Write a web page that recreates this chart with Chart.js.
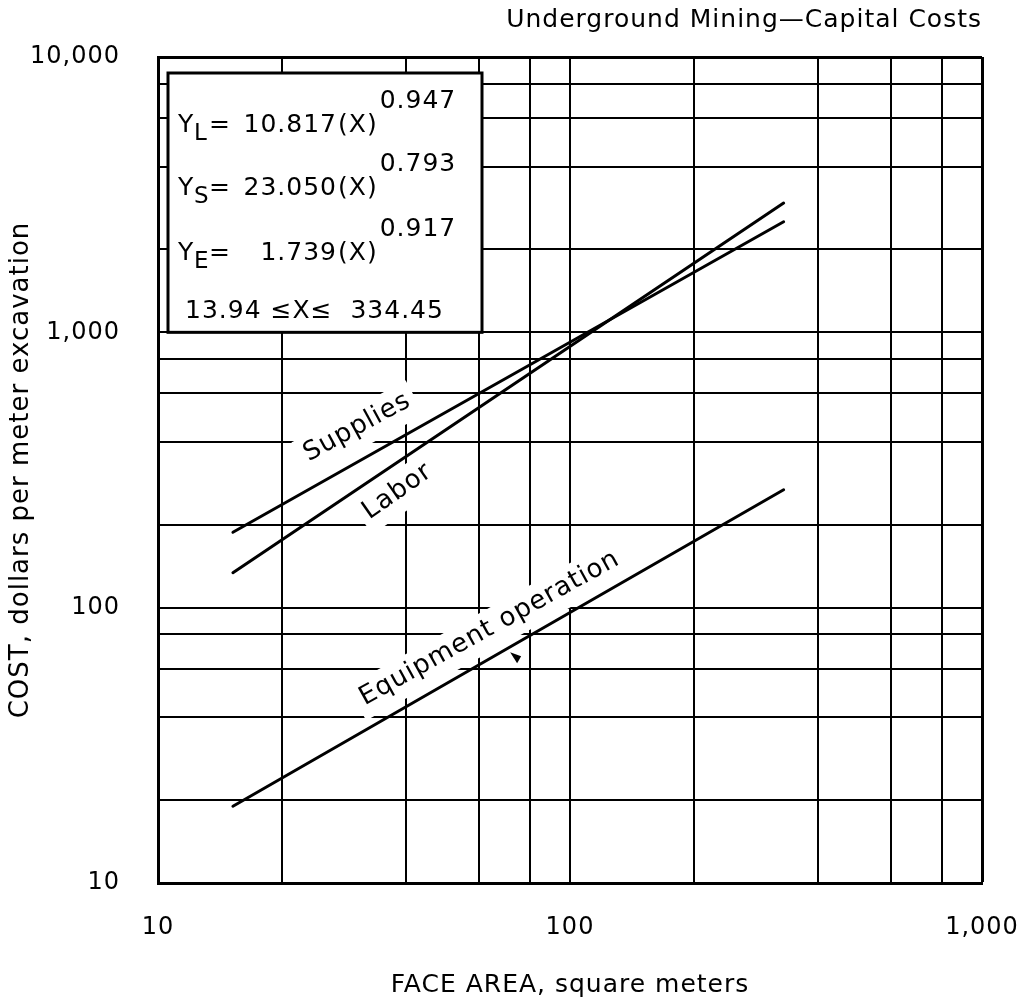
<!DOCTYPE html>
<html>
<head>
<meta charset="utf-8">
<title>Underground Mining—Capital Costs</title>
<script src="https://cdn.jsdelivr.net/npm/chart.js@4.4.1/dist/chart.umd.min.js"></script>
<style>
  html, body { margin: 0; padding: 0; background: #fff; }
</style>
</head>
<body>
<canvas id="cost-chart" width="1027" height="1008"></canvas>
<script>
// end points of the three fitted lines
const faceArea = [15.2, 330];          // square meters
const laborCost = [134, 2950];         // dollars per meter
const suppliesCost = [188, 2520];
const equipmentCost = [19, 268];

// grid of the original graph paper and the labelled decades
const xGridValues = [10, 20, 40, 60, 80, 100, 200, 400, 600, 800, 1000];
const yGridValues = [10, 20, 40, 60, 80, 100, 200, 400, 600, 800, 1000, 2000, 4000, 6000, 8000, 10000];
const xTickValues = [10, 100, 1000];
const xTickLabels = ['10', '100', '1,000'];
const yTickValues = [10, 100, 1000, 10000];
const yTickLabels = ['10', '100', '1,000', '10,000'];

// regression equations shown in the box
const eqSubscripts = ['L', 'S', 'E'];
const eqCoefficients = ['10.817', '23.050', '1.739'];
const eqExponents = ['0.947', '0.793', '0.917'];
const eqRange = '13.94 \u2264X\u2264  334.45';

const FONT = "'DejaVu Sans', sans-serif";
Chart.defaults.font.family = FONT;
Chart.defaults.color = '#000';

// names written along the lines (anchored in data units, baseline centre)
const curveNotes = [
    { text: 'Supplies', x: 31, y: 430, angle: 28.6 },
    { text: 'Labor', x: 39, y: 252, angle: 35 },
    { text: 'Equipment operation', x: 65, y: 80, angle: 29 }
];

function pairs(xs, ys) {
    return xs.map((x, i) => ({ x: x, y: ys[i] }));
}

function lineSet(label, values) {
    return {
        label: label,
        data: pairs(faceArea, values),
        borderColor: '#000',
        borderWidth: 3,
        borderCapStyle: 'round',
        pointRadius: 0,
        fill: false,
        tension: 0
    };
}

function tickText(values, labels) {
    return function(value) {
        const i = values.indexOf(value);
        return i < 0 ? '' : labels[i];
    };
}

//the old plotter font is wider than DejaVu, a bit of spacing helps
const spacing = {
    id: 'spacing',
    beforeLayout(chart) { chart.ctx.letterSpacing = '1px'; },
    beforeDraw(chart) { chart.ctx.letterSpacing = '1px'; }
};

const notes = {
    id: 'notes',
    beforeDatasetsDraw(chart) {
        const ctx = chart.ctx;
        const xs = chart.scales.x, ys = chart.scales.y, area = chart.chartArea;
        ctx.save();
        ctx.letterSpacing = '1px';

        // white patches behind the line names, they cut the grid like on the original
        ctx.font = '26px ' + FONT;
        ctx.fillStyle = '#fff';
        curveNotes.forEach(n => {
            const w = ctx.measureText(n.text).width;
            ctx.save();
            ctx.translate(xs.getPixelForValue(n.x), ys.getPixelForValue(n.y));
            ctx.rotate(-n.angle * Math.PI / 180);
            ctx.fillRect(-w / 2 - 6, -25, w + 12, 39);
            ctx.restore();
        });

        // equation box
        const left = area.left + 10, top = area.top + 16;
        const right = area.left + 324, bottom = ys.getPixelForValue(1000);
        ctx.fillRect(left, top, right - left, bottom - top);
        ctx.lineWidth = 3;
        ctx.strokeStyle = '#000';
        ctx.strokeRect(left, top, right - left, bottom - top);

        ctx.fillStyle = '#000';
        ctx.textBaseline = 'alphabetic';
        const rows = [59, 122, 187];
        eqSubscripts.forEach((s, i) => {
            const base = top + rows[i];
            ctx.font = '25px ' + FONT;
            ctx.textAlign = 'left';
            ctx.fillText('Y', left + 10, base);
            ctx.font = '23px ' + FONT;
            ctx.fillText(s, left + 26, base + 8);
            ctx.font = '25px ' + FONT;
            ctx.fillText('=', left + 41, base);
            ctx.textAlign = 'right';
            ctx.fillText(eqCoefficients[i], left + 169, base);
            ctx.textAlign = 'left';
            ctx.fillText('(X)', left + 170, base);
            const w = ctx.measureText('(X)').width;
            ctx.fillText(eqExponents[i], left + 172 + w, base - 24);
        });
        ctx.font = '25px ' + FONT;
        ctx.fillText(eqRange, left + 17, top + 245);
        ctx.restore();
    },
    afterDatasetsDraw(chart) {
        const ctx = chart.ctx;
        const xs = chart.scales.x, ys = chart.scales.y;
        ctx.save();
        ctx.letterSpacing = '1px';
        ctx.font = '26px ' + FONT;
        ctx.fillStyle = '#000';
        ctx.textAlign = 'center';
        ctx.textBaseline = 'alphabetic';
        curveNotes.forEach(n => {
            ctx.save();
            ctx.translate(xs.getPixelForValue(n.x), ys.getPixelForValue(n.y));
            ctx.rotate(-n.angle * Math.PI / 180);
            ctx.fillText(n.text, 0, 0);
            ctx.restore();
        });

        // little arrow head under the equipment label
        const ax = xs.getPixelForValue(74), ay = ys.getPixelForValue(66);
        ctx.beginPath();
        ctx.moveTo(ax - 6, ay - 5);
        ctx.lineTo(ax + 5, ay - 1);
        ctx.lineTo(ax + 1, ay + 6);
        ctx.closePath();
        ctx.fill();
        ctx.restore();
    }
};

const canvas = document.getElementById('cost-chart');

const costChart = new Chart(canvas, {
    type: 'line',
    data: {
        datasets: [
            lineSet('Labor', laborCost),
            lineSet('Supplies', suppliesCost),
            lineSet('Equipment operation', equipmentCost)
        ]
    },
    options: {
        responsive: false,
        animation: false,
        layout: { padding: 0 },
        plugins: {
            legend: { display: false },
            tooltip: { enabled: false },
            title: {
                display: true,
                text: 'Underground Mining\u2014Capital Costs',
                align: 'end',
                fullSize: false,
                color: '#000',
                font: { size: 25, weight: 'normal' },
                padding: { top: 5, bottom: 22 }
            }
        },
        scales: {
            x: {
                type: 'logarithmic',
                min: 10,
                max: 1000,
                afterBuildTicks: (scale) => { scale.ticks = xGridValues.map(v => ({ value: v })); },
                afterFit: (scale) => { scale.height = 125; scale.paddingRight = 45; },
                grid: {
                    color: '#000',
                    lineWidth: (c) => (c.tick && c.tick.value === 1000 ? 3 : 2),
                    drawTicks: false
                },
                border: { color: '#000', width: 3 },
                ticks: {
                    autoSkip: false,
                    maxRotation: 0,
                    padding: 30,
                    font: { size: 24 },
                    callback: tickText(xTickValues, xTickLabels)
                },
                title: {
                    display: true,
                    text: 'FACE AREA, square meters',
                    font: { size: 25 },
                    padding: { top: 0, bottom: 8 }
                }
            },
            y: {
                type: 'logarithmic',
                min: 10,
                max: 10000,
                afterBuildTicks: (scale) => { scale.ticks = yGridValues.map(v => ({ value: v })); },
                afterFit: (scale) => { scale.width = 158; },
                grid: {
                    color: '#000',
                    lineWidth: (c) => (c.tick && c.tick.value === 10000 ? 3 : 2),
                    drawTicks: false
                },
                border: { color: '#000', width: 3 },
                ticks: {
                    autoSkip: false,
                    padding: 38,
                    font: { size: 24 },
                    callback: tickText(yTickValues, yTickLabels)
                },
                title: {
                    display: true,
                    text: 'COST, dollars per meter excavation',
                    font: { size: 26 },
                    padding: { top: 6, bottom: 0 }
                }
            }
        }
    },
    plugins: [spacing, notes]
});
</script>
</body>
</html>
